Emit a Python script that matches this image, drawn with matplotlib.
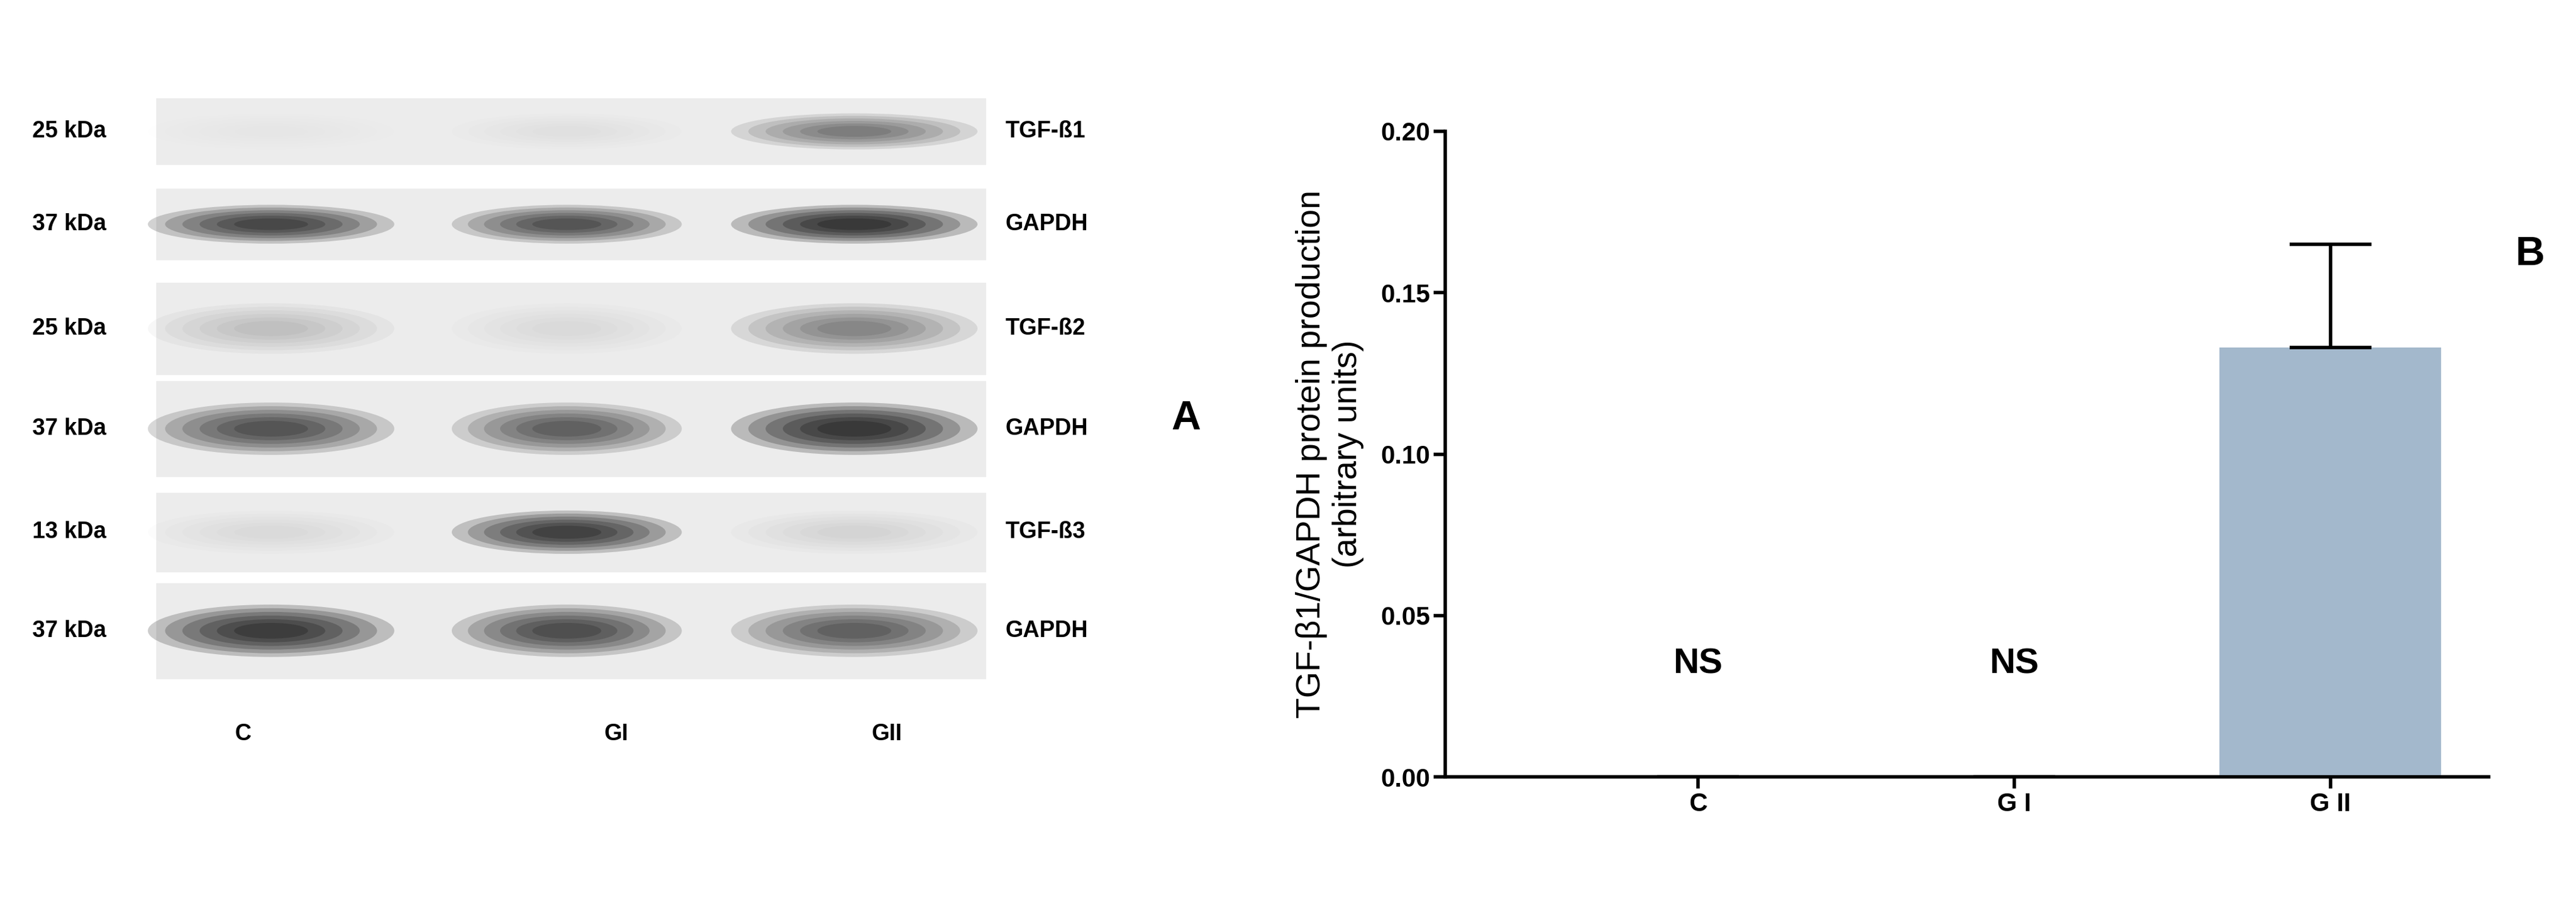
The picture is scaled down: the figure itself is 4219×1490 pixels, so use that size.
import matplotlib.pyplot as plt
from matplotlib.patches import Rectangle, Ellipse

plt.rcParams['font.family'] = ['Liberation Sans', 'DejaVu Sans']

# panel B data
groups = ['C', 'G I', 'G II']
means = [0.0, 0.0, 0.133]
errs_up = [0.0, 0.0, 0.032]
ns_labels = ['NS', 'NS', '']

# panel A blot data (relative band darkness per lane C, GI, GII)
row_names = ['TGF-ß1', 'GAPDH', 'TGF-ß2', 'GAPDH', 'TGF-ß3', 'GAPDH']
row_kda = ['25 kDa', '37 kDa', '25 kDa', '37 kDa', '13 kDa', '37 kDa']
band_dark = [
    [0.02, 0.04, 0.45],
    [0.80, 0.70, 0.95],
    [0.15, 0.05, 0.40],
    [0.70, 0.60, 0.95],
    [0.05, 0.85, 0.08],
    [0.90, 0.75, 0.60],
]
lane_names = ['C', 'GI', 'GII']

W, H = 1568, 554
fig = plt.figure(figsize=(42.19, 14.90), dpi=100)

# ---- panel A: drawn blot strips
axA = fig.add_axes([0, 0, 1, 1])
axA.set_xlim(0, W)
axA.set_ylim(H, 0)
axA.axis('off')
strips = [(60, 100), (115, 158), (172, 228), (232, 290), (300, 348), (355, 413)]
lane_x = [165, 345, 520]
lane_w = [150, 140, 150]
for (y0, y1), name, kda, dark in zip(strips, row_names, row_kda, band_dark):
    axA.add_patch(Rectangle((95, y0), 505, y1 - y0, color='#ececec', zorder=1))
    yc = (y0 + y1) / 2
    for x, w, d in zip(lane_x, lane_w, dark):
        for k in range(6):
            s = 1 - k * 0.14
            axA.add_patch(Ellipse((x, yc), w * s, (y1 - y0) * 0.55 * s,
                                  color='black', alpha=d * 0.22, lw=0, zorder=2))
    axA.text(42, yc, kda, ha='center', va='center', fontsize=27, fontweight='bold')
    axA.text(612, yc, name, ha='left', va='center', fontsize=27, fontweight='bold')
for x, n in zip([148, 375, 540], lane_names):
    axA.text(x, 447, n, ha='center', va='center', fontsize=27, fontweight='bold')
axA.text(722, 255, 'A', ha='center', va='center', fontsize=48, fontweight='bold')
axA.text(1540, 155, 'B', ha='center', va='center', fontsize=48, fontweight='bold')

# ---- panel B: bar chart
ax = fig.add_axes([0.561, 0.146, 0.405, 0.71])
xs = range(len(groups))
ax.bar(xs, means, width=0.7, color='#a3b8cc', zorder=2)
ax.errorbar(xs, means, yerr=[[0] * 3, errs_up], fmt='none', ecolor='black',
            elinewidth=4, capsize=48, capthick=4, zorder=3)
for x, t in zip(xs, ns_labels):
    ax.text(x, 0.035, t, ha='center', va='center', fontsize=42, fontweight='bold')
ax.set_ylim(0, 0.20)
ax.set_xlim(-0.8, 2.5)
ax.set_yticks([0, 0.05, 0.10, 0.15, 0.20])
ax.set_yticklabels(['0.00', '0.05', '0.10', '0.15', '0.20'])
ax.set_xticks(list(xs))
ax.set_xticklabels(groups)
for lab in ax.get_xticklabels() + ax.get_yticklabels():
    lab.set_fontweight('bold')
ax.tick_params(labelsize=30, width=4, length=14)
ax.spines['top'].set_visible(False)
ax.spines['right'].set_visible(False)
ax.spines['left'].set_linewidth(4)
ax.spines['bottom'].set_linewidth(4)
ax.set_ylabel('TGF-β1/GAPDH protein production\n(arbitrary units)', fontsize=40, labelpad=20)

fig.savefig('out.png', dpi=100)
